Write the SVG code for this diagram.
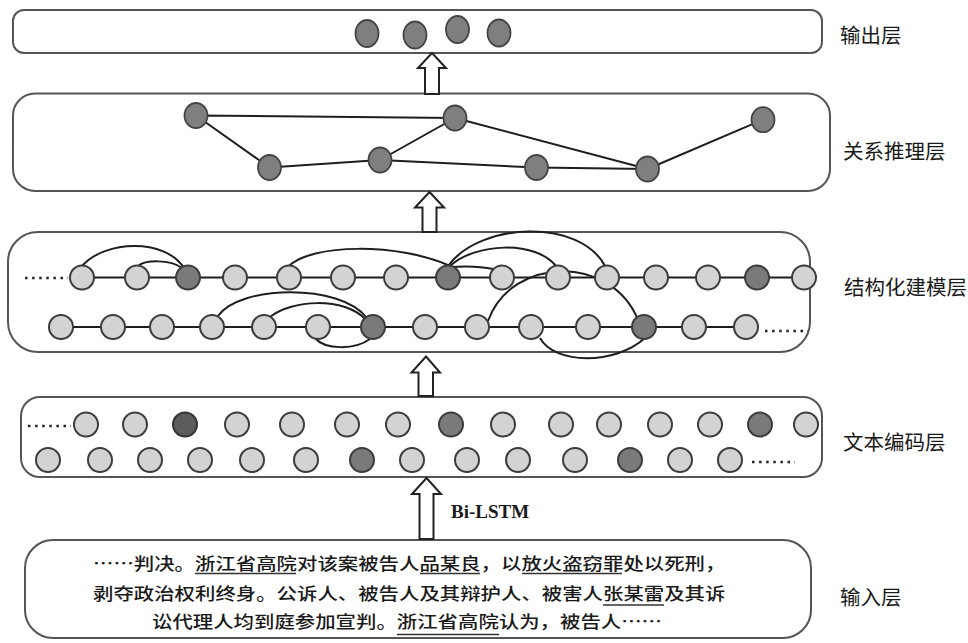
<svg xmlns="http://www.w3.org/2000/svg" width="968" height="643" viewBox="0 0 968 643">
<style>
.box{fill:#fff;stroke:#555;stroke-width:2}
.lt{fill:#d3d3d3;stroke:#3c3c3c;stroke-width:2}
.dk{fill:#7a7a7a;stroke:#3c3c3c;stroke-width:2}
.dk2{fill:#5c5c5c;stroke:#333;stroke-width:2}
.rn{fill:#7f7f7f;stroke:#444;stroke-width:1.8}
.edge{fill:none;stroke:#1e1e1e;stroke-width:2}
.dots{fill:none;stroke:#222;stroke-width:2.5;stroke-dasharray:2.5 4.6}
.arrow{fill:#fff;stroke:#222;stroke-width:2}
.lab{font-family:"Noto Sans CJK SC",sans-serif;font-size:20.5px;fill:#1a1a1a}
.in{font-family:"Noto Sans CJK SC",sans-serif;font-size:16.5px;font-weight:500;fill:#1a1a1a}
.ul{stroke:#333;stroke-width:1.5}
.en{font-family:"Liberation Serif",serif;font-size:19px;font-weight:bold;fill:#1a1a1a}
</style>
<rect x="0" y="0" width="968" height="643" fill="#fff"/>

<g id="layers">
  <rect id="box-output" class="box" x="13" y="10" width="809" height="43" rx="11"/>
  <rect id="box-relation" class="box" x="13" y="93.5" width="817" height="97.5" rx="22"/>
  <rect id="box-structure" class="box" x="8" y="232" width="802" height="120" rx="30"/>
  <rect id="box-encoding" class="box" x="21" y="397" width="801" height="80" rx="19"/>
  <rect id="box-input" class="box" x="25" y="540" width="786" height="98" rx="28"/>
</g>

<g id="connectors">
  <!-- relation layer edges -->
  <path class="edge" d="M196,115.5 L455,118 M196,115.5 L269.5,167.5 M269.5,167.5 L380,160 M380,160 L455,118 M380,160 L536.5,167.5 M536.5,167.5 L647.5,169 M455,118 L647.5,169 M647.5,169 L763,119.7"/>
  <!-- structural chains -->
  <path class="edge" d="M82,277.5 L804,277.5"/>
  <path class="edge" d="M61,327 L746,327"/>
  <!-- structural arcs row 1 -->
  <path class="edge" d="M82,266 C105,240 165,238 184,268"/>
  <path class="edge" d="M138,266 C145,260 170,259 182,268"/>
  <path class="edge" d="M288,267 C310,243 400,243 450,266"/>
  <path class="edge" d="M450,267 C465,266 480,266 493,269"/>
  <path class="edge" d="M450,266 C475,243 535,240 556,266"/>
  <path class="edge" d="M448,266 C480,222 580,218 605,266"/>
  <!-- structural arcs row 2 -->
  <path class="edge" d="M218,316 C240,285 340,283 367,318"/>
  <path class="edge" d="M270,317 C290,300 345,296 366,320"/>
  <path class="edge" d="M315,338 C325,350 355,350 370,339"/>
  <path class="edge" d="M488,321 C512,255 612,255 638,320"/>
  <path class="edge" d="M540,338 C555,365 615,365 645,338"/>
  <!-- ellipsis dots -->
  <line class="dots" x1="25" y1="278" x2="68" y2="278"/>
  <line class="dots" x1="765" y1="331" x2="808" y2="331"/>
  <line class="dots" x1="28" y1="426" x2="71" y2="426"/>
  <line class="dots" x1="752" y1="462" x2="795" y2="462"/>
  <!-- hollow block arrows between layers -->
  <polygon class="arrow" points="432,53 446,68 439,68 439,94 425,94 425,68 418,68"/>
  <polygon class="arrow" points="429.5,192 444,207.5 436.5,207.5 436.5,232 422.5,232 422.5,207.5 415,207.5"/>
  <polygon class="arrow" points="426,356.5 440,372.5 433,372.5 433,396 418.5,396 418.5,372.5 411.5,372.5"/>
  <polygon class="arrow" points="426.5,478 441,494 433.5,494 433.5,539 419.5,539 419.5,494 412,494"/>
</g>

<g id="output-nodes">
  <g id="o1"><ellipse class="rn" cx="367" cy="33.5" rx="11.5" ry="13.5"/></g>
  <g id="o2"><ellipse class="rn" cx="415" cy="35" rx="11.5" ry="13.5"/></g>
  <g id="o3"><ellipse class="rn" cx="457.5" cy="29.5" rx="11.5" ry="13.5"/></g>
  <g id="o4"><ellipse class="rn" cx="499" cy="33" rx="11.5" ry="13.5"/></g>
</g>

<g id="relation-nodes">
  <g id="r1"><ellipse class="rn" cx="196" cy="115.5" rx="11.5" ry="12.5"/></g>
  <g id="r2"><ellipse class="rn" cx="269.5" cy="167.5" rx="11.5" ry="12.5"/></g>
  <g id="r3"><ellipse class="rn" cx="380" cy="160" rx="11.5" ry="12.5"/></g>
  <g id="r4"><ellipse class="rn" cx="455" cy="118" rx="11.5" ry="12.5"/></g>
  <g id="r5"><ellipse class="rn" cx="536.5" cy="167.5" rx="11.5" ry="12.5"/></g>
  <g id="r6"><ellipse class="rn" cx="647.5" cy="169" rx="11.5" ry="12.5"/></g>
  <g id="r7"><ellipse class="rn" cx="763" cy="119.7" rx="11.5" ry="12.5"/></g>
</g>

<g id="structure-nodes">
  <g id="s1_1"><circle class="lt" cx="82" cy="277.5" r="12"/></g>
  <g id="s1_2"><circle class="lt" cx="137" cy="277.5" r="12"/></g>
  <g id="s1_3"><circle class="dk" cx="188" cy="277.5" r="12"/></g>
  <g id="s1_4"><circle class="lt" cx="235" cy="277.5" r="12"/></g>
  <g id="s1_5"><circle class="lt" cx="289" cy="277.5" r="12"/></g>
  <g id="s1_6"><circle class="lt" cx="343" cy="277.5" r="12"/></g>
  <g id="s1_7"><circle class="lt" cx="396" cy="277.5" r="12"/></g>
  <g id="s1_8"><circle class="dk" cx="448" cy="277.5" r="12"/></g>
  <g id="s1_9"><circle class="lt" cx="502" cy="277.5" r="12"/></g>
  <g id="s1_10"><circle class="lt" cx="558" cy="277.5" r="12"/></g>
  <g id="s1_11"><circle class="lt" cx="607" cy="277.5" r="12"/></g>
  <g id="s1_12"><circle class="lt" cx="656" cy="277.5" r="12"/></g>
  <g id="s1_13"><circle class="lt" cx="708" cy="277.5" r="12"/></g>
  <g id="s1_14"><circle class="dk" cx="757" cy="277.5" r="12"/></g>
  <g id="s1_15"><circle class="lt" cx="804" cy="277.5" r="12"/></g>
  <g id="s2_1"><circle class="lt" cx="61" cy="327" r="12"/></g>
  <g id="s2_2"><circle class="lt" cx="113" cy="327" r="12"/></g>
  <g id="s2_3"><circle class="lt" cx="162" cy="327" r="12"/></g>
  <g id="s2_4"><circle class="lt" cx="212" cy="327" r="12"/></g>
  <g id="s2_5"><circle class="lt" cx="264" cy="327" r="12"/></g>
  <g id="s2_6"><circle class="lt" cx="318" cy="327" r="12"/></g>
  <g id="s2_7"><circle class="dk" cx="373" cy="327" r="12"/></g>
  <g id="s2_8"><circle class="lt" cx="425" cy="327" r="12"/></g>
  <g id="s2_9"><circle class="lt" cx="477" cy="327" r="12"/></g>
  <g id="s2_10"><circle class="lt" cx="531" cy="327" r="12"/></g>
  <g id="s2_11"><circle class="lt" cx="588" cy="327" r="12"/></g>
  <g id="s2_12"><circle class="dk" cx="644" cy="327" r="12"/></g>
  <g id="s2_13"><circle class="lt" cx="694" cy="327" r="12"/></g>
  <g id="s2_14"><circle class="lt" cx="746" cy="327" r="12"/></g>
</g>

<g id="encoding-nodes">
  <g id="t1_1"><circle class="lt" cx="86" cy="424.5" r="12"/></g>
  <g id="t1_2"><circle class="lt" cx="135" cy="424.5" r="12"/></g>
  <g id="t1_3"><circle class="dk2" cx="185" cy="424.5" r="12"/></g>
  <g id="t1_4"><circle class="lt" cx="237" cy="424.5" r="12"/></g>
  <g id="t1_5"><circle class="lt" cx="292" cy="424.5" r="12"/></g>
  <g id="t1_6"><circle class="lt" cx="347" cy="424.5" r="12"/></g>
  <g id="t1_7"><circle class="lt" cx="398" cy="424.5" r="12"/></g>
  <g id="t1_8"><circle class="dk" cx="451" cy="424.5" r="12"/></g>
  <g id="t1_9"><circle class="lt" cx="503" cy="424.5" r="12"/></g>
  <g id="t1_10"><circle class="lt" cx="561" cy="424.5" r="12"/></g>
  <g id="t1_11"><circle class="lt" cx="609" cy="424.5" r="12"/></g>
  <g id="t1_12"><circle class="lt" cx="660" cy="424.5" r="12"/></g>
  <g id="t1_13"><circle class="lt" cx="710" cy="424.5" r="12"/></g>
  <g id="t1_14"><circle class="dk" cx="760" cy="424.5" r="12"/></g>
  <g id="t1_15"><circle class="lt" cx="806" cy="424.5" r="12"/></g>
  <g id="t2_1"><circle class="lt" cx="48" cy="460" r="12"/></g>
  <g id="t2_2"><circle class="lt" cx="100" cy="460" r="12"/></g>
  <g id="t2_3"><circle class="lt" cx="150" cy="460" r="12"/></g>
  <g id="t2_4"><circle class="lt" cx="200" cy="460" r="12"/></g>
  <g id="t2_5"><circle class="lt" cx="252" cy="460" r="12"/></g>
  <g id="t2_6"><circle class="lt" cx="306" cy="460" r="12"/></g>
  <g id="t2_7"><circle class="dk" cx="362" cy="460" r="12"/></g>
  <g id="t2_8"><circle class="lt" cx="412" cy="460" r="12"/></g>
  <g id="t2_9"><circle class="lt" cx="467" cy="460" r="12"/></g>
  <g id="t2_10"><circle class="lt" cx="518" cy="460" r="12"/></g>
  <g id="t2_11"><circle class="lt" cx="575" cy="460" r="12"/></g>
  <g id="t2_12"><circle class="dk" cx="630" cy="460" r="12"/></g>
  <g id="t2_13"><circle class="lt" cx="680" cy="460" r="12"/></g>
  <g id="t2_14"><circle class="lt" cx="730" cy="460" r="12"/></g>
</g>

<g id="input-text">
  <text class="in" x="93" y="569.5" textLength="102" lengthAdjust="spacingAndGlyphs">……判决。</text>
  <text class="in" x="195" y="569.5" textLength="102" lengthAdjust="spacingAndGlyphs">浙江省高院</text>
  <text class="in" x="297" y="569.5" textLength="122.4" lengthAdjust="spacingAndGlyphs">对该案被告人</text>
  <text class="in" x="419.4" y="569.5" textLength="61.2" lengthAdjust="spacingAndGlyphs">品某良</text>
  <text class="in" x="480.6" y="569.5" textLength="40.8" lengthAdjust="spacingAndGlyphs">，以</text>
  <text class="in" x="521.4" y="569.5" textLength="102" lengthAdjust="spacingAndGlyphs">放火盗窃罪</text>
  <text class="in" x="623.4" y="569.5" textLength="102" lengthAdjust="spacingAndGlyphs">处以死刑，</text>
  <text class="in" x="93" y="600" textLength="510" lengthAdjust="spacingAndGlyphs">剥夺政治权利终身。公诉人、被告人及其辩护人、被害人</text>
  <text class="in" x="603" y="600" textLength="61.2" lengthAdjust="spacingAndGlyphs">张某雷</text>
  <text class="in" x="664.2" y="600" textLength="61.2" lengthAdjust="spacingAndGlyphs">及其诉</text>
  <text class="in" x="152" y="627.5" textLength="244.8" lengthAdjust="spacingAndGlyphs">讼代理人均到庭参加宣判。</text>
  <text class="in" x="396.8" y="627.5" textLength="102" lengthAdjust="spacingAndGlyphs">浙江省高院</text>
  <text class="in" x="498.8" y="627.5" textLength="163.2" lengthAdjust="spacingAndGlyphs">认为，被告人……</text>
  <line class="ul" x1="195" y1="573.5" x2="296" y2="573.5"/>
  <line class="ul" x1="420" y1="573.5" x2="480" y2="573.5"/>
  <line class="ul" x1="522" y1="573.5" x2="622" y2="573.5"/>
  <line class="ul" x1="603" y1="605" x2="664" y2="605"/>
  <line class="ul" x1="397" y1="634.5" x2="499" y2="634.5"/>
</g>

<g id="labels">
  <text class="lab" x="840" y="43">输出层</text>
  <text class="lab" x="843" y="158.5">关系推理层</text>
  <text class="lab" x="844" y="294.5">结构化建模层</text>
  <text class="lab" x="843" y="450">文本编码层</text>
  <text class="lab" x="840" y="605">输入层</text>
  <text class="en" x="451" y="518">Bi-LSTM</text>
</g>
</svg>
